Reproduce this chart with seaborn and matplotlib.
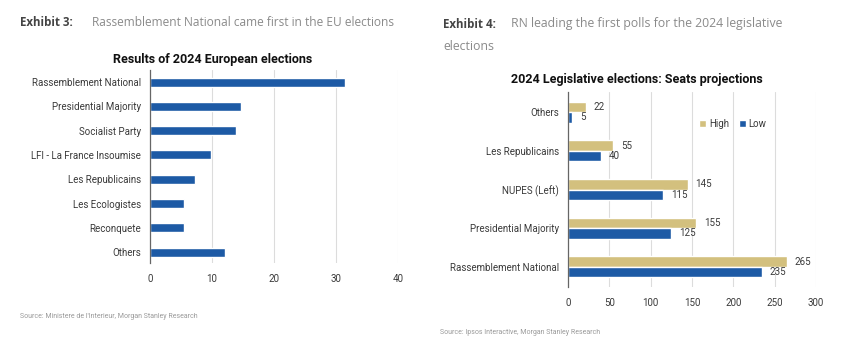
import matplotlib
matplotlib.use("Agg")
import matplotlib.pyplot as plt
import seaborn as sns
import pandas as pd

# ---- data ----
eu_parties = ["Rassemblement National", "Presidential Majority", "Socialist Party",
              "LFI - La France Insoumise", "Les Republicains", "Les Ecologistes",
              "Reconquete", "Others"]
eu_results = [31.4, 14.6, 13.8, 9.9, 7.2, 5.5, 5.5, 12.1]

leg_parties = ["Others", "Les Republicains", "NUPES (Left)",
               "Presidential Majority", "Rassemblement National"]
seats_high = [22, 55, 145, 155, 265]
seats_low = [5, 40, 115, 125, 235]
series_names = ["High", "Low"]

left_ticks = [0, 10, 20, 30, 40]
right_ticks = [0, 50, 100, 150, 200, 250, 300]

BLUE = "#1D5AA5"
GOLD = "#D3C07E"
TXT = "#3a3a3a"
GRID = "#dcdcdc"

sns.set_theme(style="white")
plt.rcParams["font.family"] = ["Roboto", "DejaVu Sans"]
HEAD = ["Open Sans", "DejaVu Sans"]

fig = plt.figure(figsize=(8.48, 3.39), dpi=100)


def style_axes(ax, ticks, xmax):
    ax.set_xlim(0, xmax)
    ax.set_xticks(ticks)
    ax.grid(axis="x", color=GRID, linewidth=0.8)
    ax.set_axisbelow(True)
    for s in ["top", "right", "bottom"]:
        ax.spines[s].set_visible(False)
    ax.spines["left"].set_color("#666666")
    ax.spines["left"].set_linewidth(0.9)
    ax.tick_params(axis="both", length=0, labelsize=7, colors=TXT)
    ax.tick_params(axis="y", pad=6.5)
    ax.tick_params(axis="x", pad=8)
    ax.set_xlabel("")
    ax.set_ylabel("")


# ---- left chart ----
ax1 = fig.add_axes([150 / 848, (339 - 263) / 339, 248 / 848, 193 / 339])
df1 = pd.DataFrame({"party": eu_parties, "result": eu_results})
sns.barplot(data=df1, x="result", y="party", color=BLUE, width=0.37,
            saturation=1, ax=ax1, orient="h")
style_axes(ax1, left_ticks, 40)
ax1.set_ylim(7.45, -0.5)
fig.text(213 / 848, 1 - 59 / 339, "Results of 2024 European elections",
         ha="center", va="center", fontsize=9, fontweight="bold", color="#111111")

# ---- right chart ----
ax2 = fig.add_axes([568 / 848, (339 - 287) / 339, 248 / 848, 195 / 339])
df2 = pd.DataFrame({
    "party": leg_parties * 2,
    "seats": seats_high + seats_low,
    "series": [series_names[0]] * len(leg_parties) + [series_names[1]] * len(leg_parties),
})
sns.barplot(data=df2, x="seats", y="party", hue="series", palette=[GOLD, BLUE],
            width=0.54, saturation=1, ax=ax2, orient="h")
style_axes(ax2, right_ticks, 300)
ax2.set_ylim(4.52, -0.52)
for cont in ax2.containers:
    ax2.bar_label(cont, padding=5.5, fontsize=7, color=TXT)
ax2.legend(loc="center", bbox_to_anchor=(0.665, 0.835), ncol=2, frameon=False,
           fontsize=7, handlelength=0.7, handleheight=0.7, handletextpad=0.3,
           columnspacing=1.0, labelcolor=TXT)
fig.text(637 / 848, 1 - 80 / 339, "2024 Legislative elections: Seats projections",
         ha="center", va="center", fontsize=9, fontweight="bold", color="#111111")

# ---- headers ----
fig.text(20 / 848, 1 - 22 / 339, "Exhibit 3:", ha="left", va="center", family=HEAD,
         fontsize=8.3, fontweight="bold", color="#444444")
fig.text(92 / 848, 1 - 22 / 339, "Rassemblement National came first in the EU elections",
         ha="left", va="center", fontsize=8.6, color="#8a8a8a", family=HEAD)
fig.text(443 / 848, 1 - 24 / 339, "Exhibit 4:", ha="left", va="center", family=HEAD,
         fontsize=8.3, fontweight="bold", color="#444444")
fig.text(511 / 848, 1 - 24 / 339, "RN leading the first polls for the 2024 legislative",
         ha="left", va="center", fontsize=8.8, color="#8a8a8a", family=HEAD)
fig.text(443 / 848, 1 - 46 / 339, "elections", ha="left", va="center",
         fontsize=8.8, color="#8a8a8a", family=HEAD)

# ---- sources ----
fig.text(20 / 848, 1 - 317 / 339, "Source: Ministere de l'Interieur, Morgan Stanley Research",
         ha="left", va="center", fontsize=5, color="#9a9a9a")
fig.text(440 / 848, 1 - 333 / 339, "Source: Ipsos Interactive, Morgan Stanley Research",
         ha="left", va="center", fontsize=5, color="#9a9a9a")

fig.savefig("out.png", dpi=100)
